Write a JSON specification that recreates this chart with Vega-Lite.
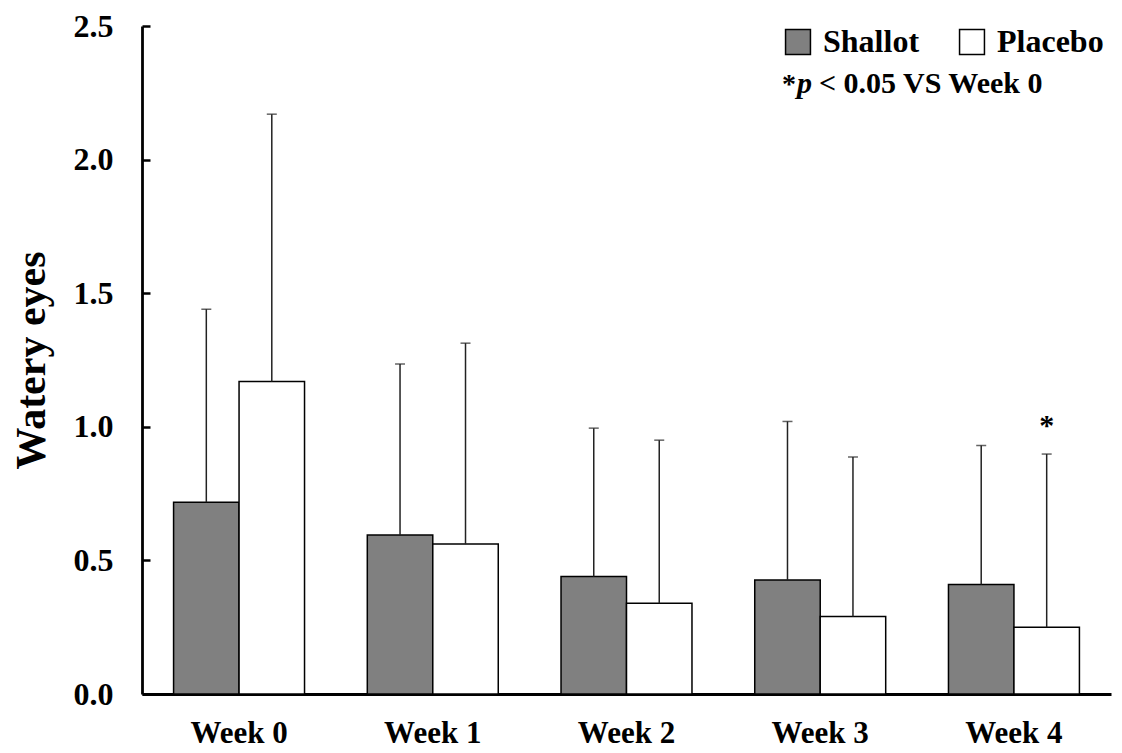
{
  "$schema": "https://vega.github.io/schema/vega-lite/v6.json",
  "width": 969,
  "height": 668,
  "autosize": {"type": "none"},
  "padding": {"left": 142, "top": 26, "right": 11, "bottom": 59},
  "background": "white",
  "config": {
    "view": {"stroke": null},
    "font": "Liberation Serif",
    "axis": {"grid": false, "domainColor": "black", "domainWidth": 2.8, "labelColor": "black", "titleColor": "black", "labelFont": "Liberation Serif", "titleFont": "Liberation Serif", "labelFontWeight": "bold", "titleFontWeight": "bold"}
  },
  "datasets": {
    "bars": [
      {"week": "Week 0", "group": "Shallot", "mean": 0.718, "upper": 1.44},
      {"week": "Week 0", "group": "Placebo", "mean": 1.17, "upper": 2.17},
      {"week": "Week 1", "group": "Shallot", "mean": 0.595, "upper": 1.235},
      {"week": "Week 1", "group": "Placebo", "mean": 0.561, "upper": 1.313},
      {"week": "Week 2", "group": "Shallot", "mean": 0.44, "upper": 0.995},
      {"week": "Week 2", "group": "Placebo", "mean": 0.34, "upper": 0.95},
      {"week": "Week 3", "group": "Shallot", "mean": 0.427, "upper": 1.02},
      {"week": "Week 3", "group": "Placebo", "mean": 0.29, "upper": 0.887},
      {"week": "Week 4", "group": "Shallot", "mean": 0.41, "upper": 0.93},
      {"week": "Week 4", "group": "Placebo", "mean": 0.25, "upper": 0.898, "sig": "*"}
    ],
    "note": [
      {"week": "Week 4", "y": 2.25}
    ]
  },
  "data": {"name": "bars"},
  "encoding": {
    "x": {
      "field": "week", "type": "nominal", "sort": ["Week 0", "Week 1", "Week 2", "Week 3", "Week 4"],
      "scale": {"paddingInner": 0.324, "paddingOuter": 0.163},
      "axis": {"title": null, "labelAngle": 0, "ticks": false, "labelFontSize": 31, "labelPadding": 24, "labelBaseline": "top"}
    },
    "y": {
      "field": "mean", "type": "quantitative",
      "scale": {"domain": [0, 2.5], "nice": false, "zero": true},
      "axis": {"title": "Watery eyes", "values": [0, 0.5, 1, 1.5, 2, 2.5], "format": ".1f", "labelFontSize": 32, "tickSize": -8, "tickWidth": 2.5, "tickColor": "black", "labelPadding": 37, "titleFontSize": 42, "titlePadding": 20}
    }
  },
  "layer": [
    {
      "mark": {"type": "bar", "stroke": "black", "strokeWidth": 1.5},
      "encoding": {
        "xOffset": {"field": "group", "type": "nominal", "sort": ["Shallot", "Placebo"], "scale": {"paddingInner": 0, "paddingOuter": 0}},
        "fill": {
          "field": "group", "type": "nominal", "sort": ["Shallot", "Placebo"],
          "scale": {"domain": ["Shallot", "Placebo"], "range": ["#808080", "#ffffff"]},
          "legend": {"title": null, "orient": "none", "legendX": 640, "legendY": 0, "direction": "horizontal", "symbolType": "square", "symbolSize": 620, "symbolStrokeColor": "black", "symbolStrokeWidth": 1.5, "labelFont": "Liberation Serif", "labelFontWeight": "bold", "labelFontSize": 32, "labelColor": "black", "labelOffset": 9, "columnPadding": 36, "padding": 0}
        }
      }
    },
    {
      "mark": {"type": "rule", "color": "#222222", "strokeWidth": 1.5},
      "encoding": {
        "xOffset": {"field": "group", "type": "nominal", "sort": ["Shallot", "Placebo"]},
        "y2": {"field": "upper"}
      }
    },
    {
      "mark": {"type": "tick", "color": "#222222", "thickness": 1.5, "size": 10, "orient": "horizontal"},
      "encoding": {
        "xOffset": {"field": "group", "type": "nominal", "sort": ["Shallot", "Placebo"]},
        "y": {"field": "upper", "type": "quantitative"}
      }
    },
    {
      "transform": [{"filter": "datum.sig"}],
      "mark": {"type": "text", "font": "Liberation Serif", "fontWeight": "bold", "fontSize": 30, "baseline": "alphabetic", "color": "black"},
      "encoding": {
        "xOffset": {"field": "group", "type": "nominal", "sort": ["Shallot", "Placebo"]},
        "y": {"datum": 0.97, "type": "quantitative"},
        "text": {"field": "sig"}
      }
    },
    {
      "data": {"name": "note"},
      "mark": {"type": "text", "font": "Liberation Serif", "fontWeight": "bold", "fontSize": 28, "align": "left", "baseline": "alphabetic", "dx": -232, "color": "black"},
      "encoding": {"y": {"field": "y", "type": "quantitative"}, "text": {"value": "*"}}
    },
    {
      "data": {"name": "note"},
      "mark": {"type": "text", "font": "Liberation Serif", "fontWeight": "bold", "fontStyle": "italic", "fontSize": 30, "align": "left", "baseline": "alphabetic", "dx": -217, "color": "black"},
      "encoding": {"y": {"field": "y", "type": "quantitative"}, "text": {"value": "p"}}
    },
    {
      "data": {"name": "note"},
      "mark": {"type": "text", "font": "Liberation Serif", "fontWeight": "bold", "fontSize": 30, "align": "left", "baseline": "alphabetic", "dx": -195, "color": "black"},
      "encoding": {"y": {"field": "y", "type": "quantitative"}, "text": {"value": "< 0.05 VS Week 0"}}
    }
  ]
}
